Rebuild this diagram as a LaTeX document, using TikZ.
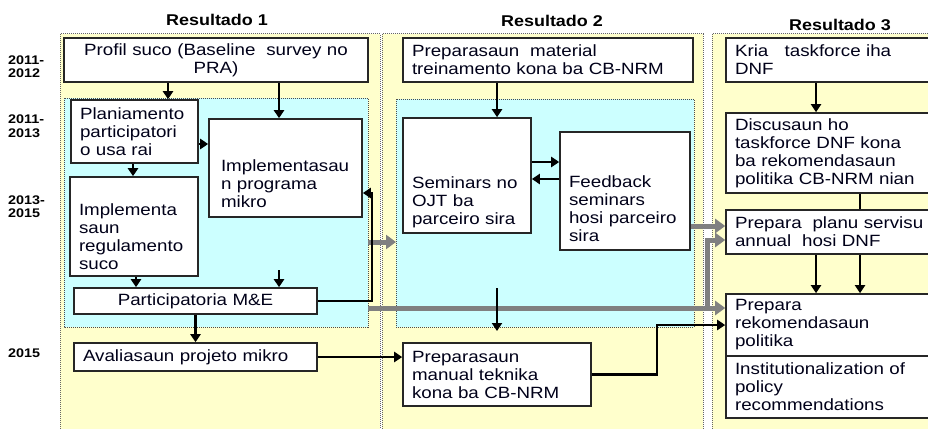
\documentclass[tikz,border=0pt]{standalone}
\usepackage{fontspec}
\setmainfont{Liberation Sans}[FakeStretch=1.15]
\usetikzlibrary{arrows.meta}
\definecolor{panelyellow}{RGB}{255,255,204}
\definecolor{panelcyan}{RGB}{204,255,255}
\definecolor{arrowgray}{RGB}{128,128,128}
\newcommand\tgap[1]{\rule{0pt}{#1pt}}
\hyphenpenalty=10000
\exhyphenpenalty=10000
\begin{document}
\begin{tikzpicture}[x=1pt,y=-1pt,
  box/.style={draw=black!85, line width=1.6pt, fill=white, inner xsep=9pt, inner ysep=0pt, align=left,
    text=black!90!blue, font=\fontsize{16.3}{18}\selectfont},
  ttl/.style={font=\bfseries\fontsize{15.6}{18}\selectfont},
  yr/.style={font=\bfseries\fontsize{12.5}{13.5}\selectfont, align=left, anchor=west, inner sep=0pt},
  ypanel/.style={fill=panelyellow, draw=black!60, densely dotted, line width=1pt},
  cpanel/.style={fill=panelcyan, draw=black!70, densely dotted, line width=1pt},
  arr/.style={line width=2.4pt, -{Triangle[length=8pt,width=10pt]}},
  ln/.style={line width=2.4pt},
  garr/.style={line width=5pt, draw=arrowgray, -{Triangle[length=10pt,width=14pt]}},
]
\useasboundingbox (0,0) rectangle (928,428);
\clip (0,0) rectangle (928,428);
\fill[white] (0,0) rectangle (928,428);

% panels
\draw[ypanel] (60,34) rectangle (380,440);
\draw[ypanel] (382,34) rectangle (703,440);
\draw[ypanel] (712,34) rectangle (940,440);
\draw[cpanel] (64,98) rectangle (368,327);
\draw[cpanel] (396,99) rectangle (694,327);

% titles
\node[ttl] (t1) at (217,20) {Resultado 1};
\node[ttl] (t2) at (552,21) {Resultado 2};
\node[ttl] (t3) at (840,25) {Resultado 3};

% years
\node[yr] (y1) at (8,66.5) {2011-\\2012};
\node[yr] (y2) at (8,126) {2011-\\2013};
\node[yr] (y3) at (8,206.5) {2013-\\2015};
\node[yr] (y4) at (8,353) {2015};

% column 1
\node[box, minimum width=304pt, minimum height=44pt, text width=286pt, align=center] (profil) at (216,60)
  {Profil suco (Baseline~ survey no\\PRA)};
\node[box, minimum width=127pt, minimum height=63pt, text width=109pt] (plan) at (134.5,131.5)
  {Planiamento\\participatori\\o usa rai};
\node[box, minimum width=153pt, minimum height=98pt, text width=129pt, inner xsep=12pt] (implprog) at (285.5,168)
  {\tgap{44}Implementasau\\n programa\\mikro};
\node[box, minimum width=128pt, minimum height=99pt, text width=110pt] (implsaun) at (134,226.5)
  {\tgap{32}Implementa\\saun\\regulamento\\suco};
\node[box, minimum width=243pt, minimum height=26pt, text width=225pt, align=center] (me) at (195.5,301)
  {Participatoria M\&E};
\node[box, minimum width=243pt, minimum height=28pt, text width=225pt] (aval) at (195.5,357)
  {Avaliasaun projeto mikro};

% column 2
\node[box, minimum width=290pt, minimum height=44pt, text width=272pt] (mat) at (548,60)
  {Preparasaun~ material\\treinamento kona ba CB-NRM};
\node[box, minimum width=128pt, minimum height=115pt, text width=110pt] (sem) at (467,175.5)
  {\tgap{66}Seminars no\\OJT ba\\parceiro sira};
\node[box, minimum width=130pt, minimum height=118pt, text width=112pt] (feed) at (625,191)
  {\tgap{48}Feedback\\seminars\\hosi parceiro\\sira};
\node[box, minimum width=188pt, minimum height=63pt, text width=170pt] (man) at (497,374.5)
  {Preparasaun\\manual teknika\\kona ba CB-NRM};

% column 3
\node[box, minimum width=214pt, minimum height=44pt, text width=196pt] (kria) at (833,60)
  {Kria~~ taskforce iha\\DNF};
\node[box, minimum width=214pt, minimum height=80pt, text width=196pt] (disc) at (833,153)
  {Discusaun ho\\taskforce DNF kona\\ba rekomendasaun\\politika CB-NRM nian};
\node[box, minimum width=214pt, minimum height=44pt, text width=196pt] (planu) at (833,232)
  {Prepara~ planu servisu\\annual~ hosi DNF};
\node[box, minimum width=214pt, minimum height=62pt, text width=196pt] (rek) at (833,325)
  {Prepara\\rekomendasaun\\politika};
\node[box, minimum width=214pt, minimum height=62pt, text width=196pt] (inst) at (833,387)
  {Institutionalization of\\policy\\recommendations};

% free coordinates
\coordinate (g1s) at (368,242);
\coordinate (g1e) at (396,242);
\coordinate (g2s) at (368,308);
\coordinate (g4s) at (707,308);
\coordinate (f1) at (279,270);
\coordinate (f2) at (497,288);
\coordinate (f2e) at (497,331);
\coordinate (c1) at (372,193);
\coordinate (c2) at (657,325);

% gray arrows
\draw[garr] (g1s) -- (g1e);
\draw[garr] (g2s) -- (rek.west |- g2s);
\draw[garr] (feed.east |- 0,226) -- (planu.west |- 0,226);
\draw[garr] (g4s) |- (planu.west |- 0,240);

% black arrows column 1
\draw[arr] (profil.south -| 168,0) -- (plan.north -| 168,0);
\draw[arr] (profil.south -| 279,0) -- (implprog.north -| 279,0);
\draw[arr] (plan.east |- 0,144) -- (implprog.west |- 0,144);
\draw[arr] (plan.south -| 133,0) -- (implsaun.north -| 133,0);
\draw[arr] (implsaun.south -| 136,0) -- (me.north -| 136,0);
\draw[arr] (f1) -- (me.north -| f1);
\draw[arr] (me.south) -- (aval.north);
\draw[arr] (me.east) -| (c1) -- (implprog.east |- c1);
\draw[arr] (aval.east) -- (man.west |- aval.east);

% column 2
\draw[arr] (mat.south -| 497,0) -- (sem.north -| 497,0);
\draw[arr] (sem.east |- 0,162) -- (feed.west |- 0,162);
\draw[arr] (feed.west |- 0,179) -- (sem.east |- 0,179);
\draw[arr] (f2) -- (f2e);
\draw[arr] (man.east) -| (c2) -- (rek.west);

% column 3
\draw[arr] (kria.south -| 816,0) -- (disc.north -| 816,0);
\draw[ln] (disc.south -| 860,0) -- (planu.north -| 860,0);
\draw[arr] (planu.south -| 816,0) -- (rek.north -| 816,0);
\draw[arr] (planu.south -| 860,0) -- (rek.north -| 860,0);
\end{tikzpicture}
\end{document}
